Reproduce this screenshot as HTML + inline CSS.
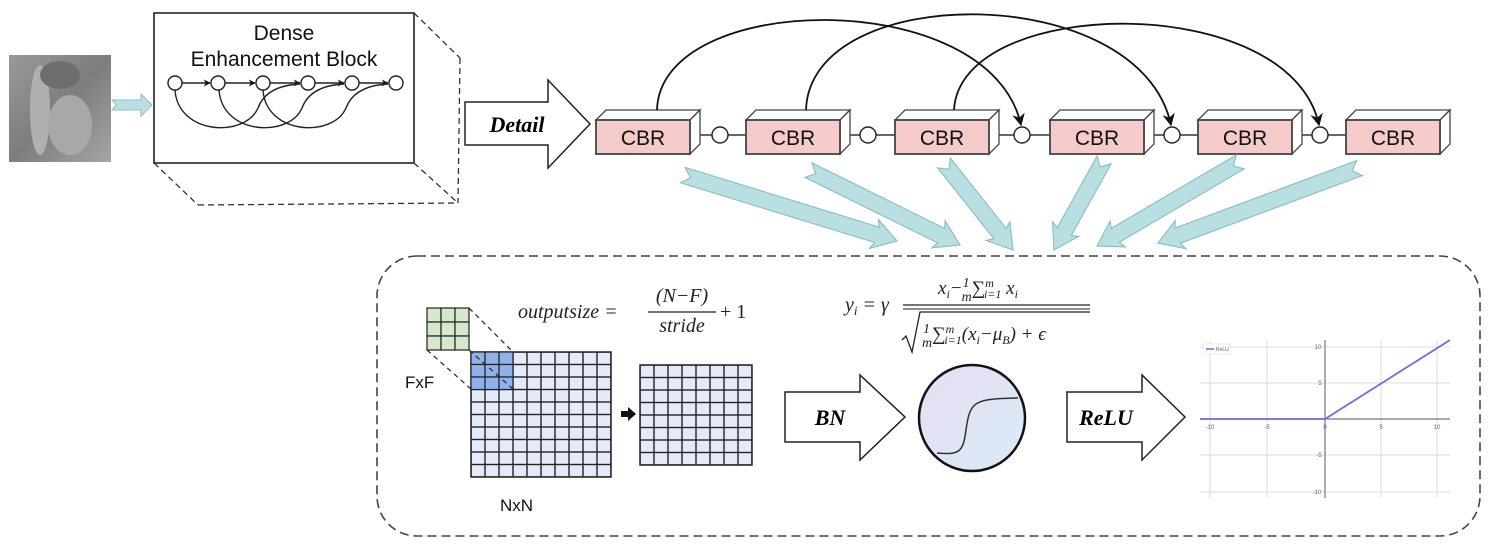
<!DOCTYPE html>
<html><head><meta charset="utf-8"><style>
html,body{margin:0;padding:0;background:#fff;}
svg{display:block;}
text{font-family:"Liberation Sans",sans-serif;}
.serif{font-family:"Liberation Serif",serif;font-style:italic;}
.bsi{font-family:"Liberation Serif",serif;font-style:italic;font-weight:bold;}
</style></head><body>
<svg width="1489" height="546" viewBox="0 0 1489 546" xmlns="http://www.w3.org/2000/svg">
<defs>
<marker id="ah" viewBox="0 0 10 10" refX="9" refY="5" markerWidth="7" markerHeight="7" orient="auto"><path d="M0,0 L10,5 L0,10 L3,5 z" fill="#111"/></marker>
<marker id="ah2" viewBox="0 0 10 10" refX="9" refY="5" markerWidth="5" markerHeight="5" orient="auto"><path d="M0,0 L10,5 L0,10 L3,5 z" fill="#111"/></marker>
<pattern id="gb" x="471" y="352" width="14" height="12.5" patternUnits="userSpaceOnUse"><rect width="14" height="12.5" fill="#e4eafa" stroke="#222" stroke-width="1.4"/></pattern>
<pattern id="gb2" x="640" y="365" width="14" height="12.5" patternUnits="userSpaceOnUse"><rect width="14" height="12.5" fill="#e4eafa" stroke="#222" stroke-width="1.4"/></pattern>
<linearGradient id="cg" x1="0" y1="0" x2="1" y2="1"><stop offset="0" stop-color="#eadcf3"/><stop offset="1" stop-color="#d8ecf6"/></linearGradient>
<linearGradient id="img" x1="0" y1="0" x2="1" y2="1"><stop offset="0" stop-color="#9a9a9a"/><stop offset="0.5" stop-color="#7d7d7d"/><stop offset="1" stop-color="#a5a5a5"/></linearGradient>
</defs>

<rect x="9" y="55" width="102" height="107" fill="url(#img)"/>
<ellipse cx="40" cy="110" rx="10" ry="45" fill="#b0b0b0"/>
<ellipse cx="70" cy="125" rx="22" ry="30" fill="#a8a8a8"/>
<ellipse cx="60" cy="75" rx="20" ry="14" fill="#6e6e6e"/>
<polygon points="112,100 141,100 141,94 152,105 141,116 141,110 112,110 116,105" fill="#b8e0e3" stroke="#8fbfc3"/>

<rect x="154" y="13" width="260" height="150" fill="#fff" stroke="#222" stroke-width="1.6"/>
<g stroke="#333" stroke-width="1.3" stroke-dasharray="6,4" fill="none">
<line x1="414" y1="13" x2="460" y2="58"/><line x1="460" y1="58" x2="458" y2="203"/>
<line x1="154" y1="163" x2="198" y2="205"/><line x1="198" y1="205" x2="458" y2="203"/>
<line x1="414" y1="163" x2="458" y2="203"/>
</g>
<text x="284" y="40" font-size="21" text-anchor="middle" fill="#111">Dense</text>
<text x="284" y="66" font-size="21" text-anchor="middle" fill="#111">Enhancement Block</text>
<g stroke="#222" stroke-width="1.4" fill="none">
<line x1="182" y1="83" x2="210" y2="83" marker-end="url(#ah2)"/>
<line x1="225" y1="83" x2="255" y2="83" marker-end="url(#ah2)"/>
<line x1="270" y1="83" x2="300" y2="83" marker-end="url(#ah2)"/>
<line x1="315" y1="83" x2="344" y2="83" marker-end="url(#ah2)"/>
<line x1="359" y1="83" x2="388" y2="83" marker-end="url(#ah2)"/>
<path d="M175,90 C178,135 245,138 258,108 C264,92 280,85 300,84"/>
<path d="M219,90 C222,135 289,138 302,108 C308,92 324,85 344,84"/>
<path d="M263,90 C266,135 333,138 346,108 C352,92 368,85 388,84"/>
</g>
<g fill="#fff" stroke="#222" stroke-width="1.4">
<circle cx="175" cy="83" r="7"/><circle cx="218" cy="83" r="7"/><circle cx="263" cy="83" r="7"/><circle cx="308" cy="83" r="7"/><circle cx="352" cy="83" r="7"/><circle cx="396" cy="83" r="7"/>
</g>

<polygon points="465,102 548,102 548,80 590,124 548,168 548,145 465,145" fill="#fff" stroke="#222" stroke-width="1.5"/>
<text x="517" y="132" font-size="22" text-anchor="middle" class="bsi">Detail</text>

<line x1="690" y1="135" x2="1346" y2="135" stroke="#333" stroke-width="1.4"/>

<g stroke="#444" stroke-width="1.3">
<g id="b1"><polygon points="596,120 606,110 700,110 690,120" fill="#fff"/><polygon points="690,120 700,110 700,144 690,154" fill="#fff"/><rect x="596" y="120" width="94" height="34" fill="#f4caca" stroke-width="1.8"/></g>
<use href="#b1" x="150"/><use href="#b1" x="299"/><use href="#b1" x="454"/><use href="#b1" x="602"/><use href="#b1" x="750"/>
</g>
<g font-size="21" fill="#111" text-anchor="middle">
<text x="643" y="145">CBR</text><text x="793" y="145">CBR</text><text x="942" y="145">CBR</text><text x="1097" y="145">CBR</text><text x="1245" y="145">CBR</text><text x="1393" y="145">CBR</text>
</g>
<g fill="#fff" stroke="#222" stroke-width="1.4">
<circle cx="720" cy="135" r="8"/><circle cx="868" cy="135" r="8"/><circle cx="1022" cy="135" r="8"/><circle cx="1172" cy="135" r="8"/><circle cx="1320" cy="135" r="8"/>
</g>
<g fill="none" stroke="#111" stroke-width="1.8">
<path d="M657,110 C660,-10 990,-15 1021,125" marker-end="url(#ah)"/>
<path d="M806,110 C810,-20 1140,-20 1171,125" marker-end="url(#ah)"/>
<path d="M954,110 C960,-5 1290,-10 1319,125" marker-end="url(#ah)"/>
</g>

<g fill="#b8e0e3" stroke="#8fbfc3" stroke-width="1.2">
<g transform="translate(897,241) rotate(17.1)"><polygon points="0,0 -24,-15 -21,-8 -224,-8 -216,0 -224,8 -21,8 -24,15"/></g>
<g transform="translate(960,245) rotate(26.3)"><polygon points="0,0 -24,-15 -21,-8 -169,-8 -161,0 -169,8 -21,8 -24,15"/></g>
<g transform="translate(1013,250) rotate(51.6)"><polygon points="0,0 -24,-15 -21,-8 -111,-8 -103,0 -111,8 -21,8 -24,15"/></g>
<g transform="translate(1054,250) rotate(119.1)"><polygon points="0,0 -24,-15 -21,-8 -103,-8 -95,0 -103,8 -21,8 -24,15"/></g>
<g transform="translate(1097,246) rotate(149.6)"><polygon points="0,0 -24,-15 -21,-8 -166,-8 -158,0 -166,8 -21,8 -24,15"/></g>
<g transform="translate(1158,243) rotate(159.6)"><polygon points="0,0 -24,-15 -21,-8 -215,-8 -207,0 -215,8 -21,8 -24,15"/></g>
</g>

<rect x="377" y="256" width="1103" height="280" rx="40" fill="none" stroke="#444" stroke-width="1.6" stroke-dasharray="9,5"/>

<rect x="471" y="352" width="140" height="125" fill="url(#gb)" stroke="#222" stroke-width="1.5"/>
<g fill="#8fb2ec" stroke="#222" stroke-width="1.2">
<rect x="471" y="352" width="14" height="12.5"/><rect x="485" y="352" width="14" height="12.5"/><rect x="499" y="352" width="14" height="12.5"/>
<rect x="471" y="364.5" width="14" height="12.5"/><rect x="485" y="364.5" width="14" height="12.5"/><rect x="499" y="364.5" width="14" height="12.5"/>
<rect x="471" y="377" width="14" height="12.5"/><rect x="485" y="377" width="14" height="12.5"/><rect x="499" y="377" width="14" height="12.5"/>
</g>
<g fill="#d5e8cc" stroke="#222" stroke-width="1.2">
<rect x="427" y="308" width="14" height="14"/><rect x="441" y="308" width="14" height="14"/><rect x="455" y="308" width="14" height="14"/>
<rect x="427" y="322" width="14" height="14"/><rect x="441" y="322" width="14" height="14"/><rect x="455" y="322" width="14" height="14"/>
<rect x="427" y="336" width="14" height="14"/><rect x="441" y="336" width="14" height="14"/><rect x="455" y="336" width="14" height="14"/>
</g>
<g stroke="#222" stroke-width="1.2" stroke-dasharray="5,4">
<line x1="469" y1="308" x2="513" y2="352"/><line x1="469" y1="350" x2="513" y2="389"/><line x1="427" y1="350" x2="471" y2="389"/>
</g>
<rect x="640" y="365" width="112" height="100" fill="url(#gb2)" stroke="#222" stroke-width="1.5"/>
<polygon points="621,411 628,411 628,407 636,414 628,421 628,417 621,417" fill="#111"/>
<text x="405" y="388" font-size="17" fill="#111">FxF</text>
<text x="500" y="511" font-size="17" fill="#111">NxN</text>

<text x="518" y="318" font-size="20" class="serif" fill="#222">outputsize =</text>
<line x1="648" y1="312" x2="716" y2="312" stroke="#222" stroke-width="1.3"/>
<text x="682" y="302" font-size="20" class="serif" text-anchor="middle" fill="#222">(N−F)</text>
<text x="682" y="332" font-size="20" class="serif" text-anchor="middle" fill="#222">stride</text>
<text x="720" y="318" font-size="20" fill="#222" class="serif" style="font-style:normal">+ 1</text>

<text x="845" y="311" font-size="20" class="serif" fill="#222">y<tspan font-size="13" dy="4">i</tspan><tspan dy="-4"> = γ</tspan></text>
<line x1="903" y1="305" x2="1090" y2="305" stroke="#222" stroke-width="1.3"/>
<line x1="903" y1="309" x2="1090" y2="309" stroke="#222" stroke-width="1"/>
<text x="938" y="294" font-size="19" class="serif" fill="#222">x<tspan font-size="12" dy="4">i</tspan><tspan dy="-4">−</tspan><tspan font-size="14" dy="-7">1</tspan><tspan font-size="14" dx="-8" dy="14">m</tspan><tspan dy="-7">∑</tspan><tspan font-size="12" dy="-7">m</tspan><tspan font-size="12" dx="-10" dy="11">i=1</tspan><tspan dy="-4"> x</tspan><tspan font-size="12" dy="4">i</tspan></text>
<path d="M902,340 L906,336 L912,352 L920,312 L1090,312" fill="none" stroke="#222" stroke-width="1.3"/>
<text x="922" y="340" font-size="19" class="serif" fill="#222"><tspan font-size="14" dy="-7">1</tspan><tspan font-size="14" dx="-8" dy="14">m</tspan><tspan dy="-7">∑</tspan><tspan font-size="12" dy="-7">m</tspan><tspan font-size="12" dx="-10" dy="11">i=1</tspan><tspan dy="-4">(x</tspan><tspan font-size="12" dy="4">i</tspan><tspan dy="-4">−μ</tspan><tspan font-size="12" dy="4">B</tspan><tspan dy="-4">) + ϵ</tspan></text>

<polygon points="785,392 860,392 860,375 905,417 860,460 860,442 785,442" fill="#fff" stroke="#222" stroke-width="1.5"/>
<text x="830" y="425" font-size="22" text-anchor="middle" class="bsi">BN</text>
<circle cx="972" cy="418" r="53" fill="url(#cg)" stroke="#111" stroke-width="2.5"/>
<path d="M937,453 C960,455 963,452 966,430 C970,400 975,399 1018,398" fill="none" stroke="#333" stroke-width="1.5"/>
<polygon points="1067,392 1142,392 1142,375 1185,417 1142,460 1142,442 1067,442" fill="#fff" stroke="#222" stroke-width="1.5"/>
<text x="1106" y="425" font-size="22" text-anchor="middle" class="bsi">ReLU</text>

<g stroke="#ddd" stroke-width="1">
<line x1="1210" y1="340" x2="1210" y2="498"/><line x1="1267" y1="340" x2="1267" y2="498"/><line x1="1381" y1="340" x2="1381" y2="498"/><line x1="1437" y1="340" x2="1437" y2="498"/>
<line x1="1200" y1="347" x2="1450" y2="347"/><line x1="1200" y1="383" x2="1450" y2="383"/><line x1="1200" y1="455" x2="1450" y2="455"/><line x1="1200" y1="492" x2="1450" y2="492"/>
</g>
<line x1="1200" y1="419" x2="1450" y2="419" stroke="#777" stroke-width="1.2"/>
<line x1="1325" y1="340" x2="1325" y2="498" stroke="#777" stroke-width="1.2"/>
<polyline points="1200,419 1325,419 1450,340" fill="none" stroke="#6b6bf5" stroke-width="1.8"/>
<rect x="1203" y="344" width="27" height="10" fill="#fff" stroke="#ddd" stroke-width="0.6"/>
<line x1="1206" y1="349" x2="1214" y2="349" stroke="#6b6bf5" stroke-width="1.5"/>
<text x="1216" y="351" font-size="5" fill="#666">ReLU</text>
<g font-size="6" fill="#666" text-anchor="middle">
<text x="1210" y="429">-10</text><text x="1267" y="429">-5</text><text x="1325" y="429">0</text><text x="1381" y="429">5</text><text x="1437" y="429">10</text>
<text x="1318" y="349">10</text><text x="1320" y="385">5</text><text x="1319" y="457">-5</text><text x="1317" y="494">-10</text>
</g>
</svg>
</body></html>
